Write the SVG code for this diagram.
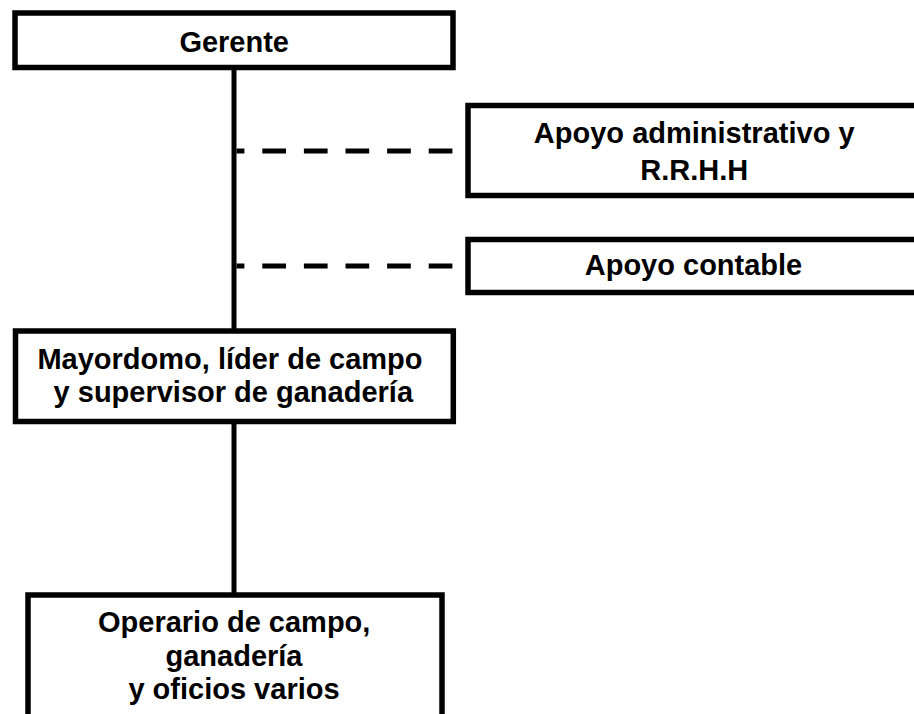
<svg xmlns="http://www.w3.org/2000/svg" width="914" height="714" viewBox="0 0 914 714">
  <style>
    .box { fill: #ffffff; stroke: #000000; stroke-width: 5.5; }
    .solid { stroke: #000000; stroke-width: 5; fill: none; }
    .dash { stroke: #000000; stroke-width: 5; fill: none; stroke-dasharray: 23.7 17.9; stroke-dashoffset: 15.8; }
    .lbl { font-family: "Liberation Sans", Arial, sans-serif; font-weight: bold; font-size: 29px; fill: #000000; text-anchor: middle; }
  </style>
  <rect width="914" height="714" fill="#ffffff"/>
  <g id="connectors">
    <line class="solid" x1="234" y1="68" x2="234" y2="330"/>
    <line class="solid" x1="234" y1="422" x2="234" y2="594"/>
    <line class="dash" x1="236.5" y1="151" x2="452.4" y2="151"/>
    <line class="dash" x1="236.5" y1="266" x2="452.4" y2="266"/>
  </g>
  <g id="gerente">
    <rect class="box" x="15" y="13" width="438" height="54.5"/>
    <text class="lbl" x="234.2" y="52">Gerente</text>
  </g>
  <g id="apoyo-administrativo">
    <rect class="box" x="468" y="105.5" width="460" height="90"/>
    <text class="lbl" x="694.2" y="143.3">Apoyo administrativo y</text>
    <text class="lbl" x="694.2" y="180">R.R.H.H</text>
  </g>
  <g id="apoyo-contable">
    <rect class="box" x="468" y="239.5" width="460" height="53"/>
    <text class="lbl" x="693.5" y="275">Apoyo contable</text>
  </g>
  <g id="mayordomo">
    <rect class="box" x="15.5" y="331" width="437.8" height="90.5"/>
    <text class="lbl" x="230" y="368.5">Mayordomo, líder de campo</text>
    <text class="lbl" x="233.3" y="401.7">y supervisor de ganadería</text>
  </g>
  <g id="operario">
    <rect class="box" x="28" y="595" width="414" height="140"/>
    <text class="lbl" x="234.2" y="631.5">Operario de campo,</text>
    <text class="lbl" x="234" y="665.5">ganadería</text>
    <text class="lbl" x="234" y="699">y oficios varios</text>
  </g>
</svg>
